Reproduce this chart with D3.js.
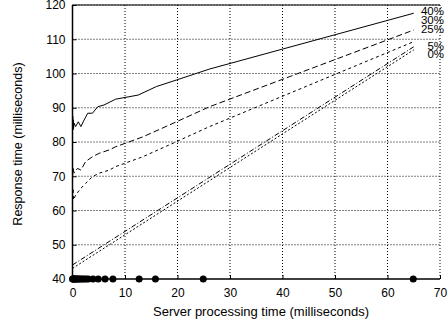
<!DOCTYPE html>
<html>
<head>
<meta charset="utf-8">
<script src="https://cdn.jsdelivr.net/npm/d3@7"></script>
<style>
  body { margin: 0; background: #fff; }
  svg { font-family: "Liberation Sans", Arial, sans-serif; }
</style>
</head>
<body>
<div id="chart"></div>
<script>
// data (x = server time ms, y = response time ms)
var x40 = [0, 0.05, 0.1, 0.15, 0.2, 0.3, 0.6, 1.1, 1.6, 2.2, 2.9, 3.8, 4.8, 6.0, 8.2, 12.5, 16, 19.8, 26.1, 65];
var y40 = [85, 87.5, 83.5, 86.5, 84, 85.5, 84.5, 85.9, 84.5, 86.4, 88.4, 88.4, 90.3, 90.8, 92.5, 93.7, 96.2, 98.1, 101.3, 117.6];

var x30 = [0, 0.1, 0.3, 0.95, 1.6, 2.5, 3.8, 5.1, 7, 8.2, 13.4, 19.8, 26.1, 65];
var y30 = [70, 72.5, 70.9, 72.3, 71.8, 74.3, 75.7, 76.7, 77.7, 78.6, 81.5, 85.9, 90.3, 112.7];

var x25 = [0, 0.1, 0.2, 0.6, 1.6, 2.5, 3.8, 5.1, 7, 8.2, 13.4, 19.8, 26.1, 65];
var y25 = [63.5, 66.5, 63.1, 64.5, 66.5, 67.9, 69.9, 70.9, 71.8, 72.8, 75.7, 80.1, 84.5, 109.3];

var x5 = [0, 65];
var y5 = [44.1, 107.8];

var x0 = [0, 65];
var y0 = [43.1, 106.9];

var seriesNames = ["40%", "30%", "25%", "5%", "0%"];
var labelValues = [117.1, 114.5, 111.8, 106.9, 104.5];

// server times of the samples (dots along the bottom)
var samples = [0, 0.1, 0.2, 0.3, 0.4, 0.5, 0.7, 0.9, 1.1, 1.3, 1.6, 1.9, 2.2, 2.6, 3.0, 3.9, 4.9, 6.2, 7.7, 12.7, 15.8, 24.9, 64.9];

var xTicks = [0, 10, 20, 30, 40, 50, 60, 70];
var yTicks = [40, 50, 60, 70, 80, 90, 100, 110, 120];

var width = 448, height = 328;
var margin = {top: 5, right: 8, bottom: 49, left: 72.5};
var w = width - margin.left - margin.right;
var h = height - margin.top - margin.bottom;

var svg = d3.select("#chart").append("svg")
  .attr("width", width)
  .attr("height", height);

var g = svg.append("g")
  .attr("transform", "translate(" + margin.left + "," + margin.top + ")");

var x = d3.scaleLinear().domain([0, 70]).range([0, w]);
var y = d3.scaleLinear().domain([40, 120]).range([h, 0]);

// dotted grid
g.append("g")
  .selectAll("line")
  .data(xTicks.slice(1))
  .enter().append("line")
  .attr("x1", function(d) { return x(d); })
  .attr("x2", function(d) { return x(d); })
  .attr("y1", 0).attr("y2", h)
  .style("stroke", "#000")
  .style("stroke-dasharray", "1,2")
  .style("stroke-width", 1);

g.append("g")
  .selectAll("line")
  .data(yTicks.slice(1))
  .enter().append("line")
  .attr("x1", 0).attr("x2", w)
  .attr("y1", function(d) { return y(d); })
  .attr("y2", function(d) { return y(d); })
  .style("stroke", "#000")
  .style("stroke-dasharray", "1,2")
  .style("stroke-width", 1);

// axes
var xAxis = g.append("g")
  .attr("transform", "translate(0," + h + ")")
  .call(d3.axisBottom(x).tickValues(xTicks).tickSize(-4).tickPadding(9));
var yAxis = g.append("g")
  .call(d3.axisLeft(y).tickValues(yTicks).tickSize(-4).tickPadding(7));

[xAxis, yAxis].forEach(function(a) {
  a.selectAll("text").style("font-size", "12px").style("font-family", "Liberation Sans, Arial, sans-serif").attr("fill", "#000");
  a.select(".domain").style("stroke-width", 1.5);
});
xAxis.select(".domain").attr("d", "M0,0H" + w);
yAxis.select(".domain").attr("d", "M0," + h + "V0");

// top border
g.append("line")
  .attr("x1", 0).attr("x2", w)
  .attr("y1", 0).attr("y2", 0)
  .style("stroke", "#000")
  .style("stroke-width", 1.2);

// series lines
var series = [
  {xs: x40, ys: y40, dash: null},
  {xs: x30, ys: y30, dash: "6,3"},
  {xs: x25, ys: y25, dash: "3,3"},
  {xs: x5, ys: y5, dash: "5,2,1,2"},
  {xs: x0, ys: y0, dash: "2,2"}
];

var line = d3.line()
  .x(function(d) { return x(d[0]); })
  .y(function(d) { return y(d[1]); });

series.forEach(function(s) {
  g.append("path")
    .datum(d3.zip(s.xs, s.ys))
    .attr("d", line)
    .style("fill", "none")
    .style("stroke", "#000")
    .style("stroke-width", 1)
    .style("stroke-dasharray", s.dash);
});

// sample dots
g.append("g")
  .selectAll("circle")
  .data(samples)
  .enter().append("circle")
  .attr("cx", function(d) { return x(d); })
  .attr("cy", y(40))
  .attr("r", 3.5)
  .style("fill", "#000");

// series labels
g.append("g")
  .selectAll("text")
  .data(seriesNames)
  .enter().append("text")
  .attr("x", x(70) + 4)
  .attr("y", function(d, i) { return y(labelValues[i]); })
  .attr("text-anchor", "end")
  .style("font-size", "11.5px")
  .text(function(d) { return d; });

// axis titles
svg.append("text")
  .attr("x", 261)
  .attr("y", 316)
  .attr("text-anchor", "middle")
  .style("font-size", "13px")
  .text("Server processing time (milliseconds)");

svg.append("text")
  .attr("transform", "translate(22," + 144 + ") rotate(-90)")
  .attr("text-anchor", "middle")
  .style("font-size", "12.5px")
  .text("Response time (milliseconds)");
</script>
</body>
</html>
